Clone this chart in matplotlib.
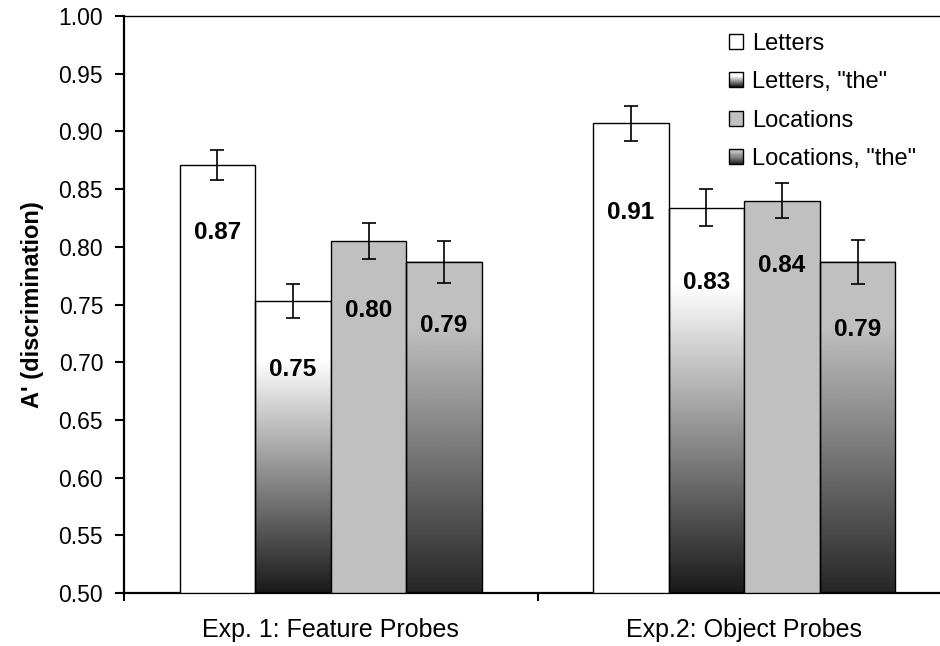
import numpy as np
import matplotlib
matplotlib.use("Agg")
import matplotlib.pyplot as plt
from matplotlib.patches import Rectangle
from matplotlib.legend_handler import HandlerBase

plt.rcParams['font.family'] = ['Liberation Sans', 'DejaVu Sans']

# data
groups = ['Exp. 1: Feature Probes', 'Exp.2: Object Probes']
series = ['Letters', 'Letters, "the"', 'Locations', 'Locations, "the"']
letters = [0.871, 0.907]
letters_the = [0.753, 0.834]
locations = [0.805, 0.840]
locations_the = [0.787, 0.787]
err_letters = [0.013, 0.015]
err_letters_the = [0.015, 0.016]
err_locations = [0.0155, 0.015]
err_locations_the = [0.018, 0.019]
value_labels = [['0.87', '0.91'], ['0.75', '0.83'], ['0.80', '0.84'], ['0.79', '0.79']]

values = [letters, letters_the, locations, locations_the]
errors = [err_letters, err_letters_the, err_locations, err_locations_the]

# styles: (top gray, bottom gray) ; None -> flat fill
fills = [('white', None), (1.0, 0.10), ('#c0c0c0', None), (0.75, 0.15)]
label_drop = [[0.059, 0.077], [0.059, 0.065], [0.060, 0.056], [0.055, 0.059]]
ymin = 0.50
hold = 0.8


def grad(top, bottom, n=256):
    t = np.linspace(0, 1, n)
    return bottom + (top - bottom) * np.clip(t / hold, 0, 1)


class GradientHandler(HandlerBase):
    def __init__(self, top, bottom):
        super().__init__()
        self.top = top
        self.bottom = bottom

    def create_artists(self, legend, orig_handle, xdescent, ydescent,
                       width, height, fontsize, trans):
        arts = []
        n = 14
        g = grad(self.top, self.bottom, n)
        for k in range(n):
            r = Rectangle((-xdescent, -ydescent + height * k / n), width, height / n,
                          facecolor=str(g[k]), edgecolor='none', transform=trans)
            arts.append(r)
        arts.append(Rectangle((-xdescent, -ydescent), width, height, facecolor='none',
                              edgecolor='black', lw=1.0, transform=trans))
        return arts


fig = plt.figure(figsize=(9.4, 6.46), dpi=100)
ax = fig.add_axes([124 / 940, 53 / 646, 827 / 940, 577 / 646])

x = np.arange(len(groups))
width = 0.1826
handles = []
for i, (vals, errs) in enumerate(zip(values, errors)):
    pos = x + (i - 1.5) * width
    heights = [v - ymin for v in vals]
    top, bottom = fills[i]
    face = top if bottom is None else 'none'
    bars = ax.bar(pos, heights, width, bottom=ymin, facecolor=face,
                  edgecolor='black', linewidth=1.0, zorder=3, label=series[i])
    handles.append(bars)
    if bottom is not None:
        for b in bars:
            x0 = b.get_x()
            img = grad(top, bottom)[:, None]
            ax.imshow(img, extent=[x0, x0 + b.get_width(), ymin, ymin + b.get_height()],
                      origin='lower', aspect='auto', cmap='gray', vmin=0, vmax=1,
                      zorder=2, interpolation='bilinear')
    ax.errorbar(pos, vals, yerr=errs, fmt='none', ecolor='black', elinewidth=1.2,
                capsize=5, capthick=1.2, zorder=4)
    for j, v in enumerate(vals):
        ax.text(pos[j], v - label_drop[i][j], value_labels[i][j], ha='center', va='center',
                fontsize=17.5, fontweight='bold', zorder=5)

ax.set_xlim(-0.5, 1.5)
ax.set_ylim(0.5, 1.0)
ax.set_yticks(np.arange(0.5, 1.001, 0.05))
ax.set_yticklabels([f'{t:.2f}' for t in np.arange(0.5, 1.001, 0.05)], fontsize=16.5)
ax.set_xticks([-0.5, 0.5, 1.5])
ax.set_xticklabels([])
ax.set_xticks(x, minor=True)
ax.set_xticklabels(groups, minor=True, fontsize=18)
ax.tick_params(axis='x', which='minor', length=0, pad=18)
ax.tick_params(axis='x', which='major', length=6, width=1.5, direction='out')
ax.tick_params(axis='y', length=6.5, width=1.5, direction='out', pad=8.5)

for s in ['left', 'bottom']:
    ax.spines[s].set_linewidth(1.6)
ax.spines['top'].set_linewidth(1.0)
ax.spines['right'].set_visible(False)

ax.set_ylabel("A' (discrimination)", fontsize=17, fontweight='bold')
ax.yaxis.set_label_coords(-0.097, 0.5)

leg = ax.legend(handles=handles, loc='upper left', bbox_to_anchor=(729 / 940, 1 - 33 / 646),
                bbox_transform=fig.transFigure, frameon=False, fontsize=17,
                handlelength=0.6, handleheight=0.6, handletextpad=0.38,
                labelspacing=0.69, borderpad=0, borderaxespad=0,
                handler_map={handles[1]: GradientHandler(1.0, 0.10),
                             handles[3]: GradientHandler(0.75, 0.15)})
for h in leg.legend_handles:
    try:
        h.set_linewidth(1.0)
    except Exception:
        pass

fig.savefig('out.png', dpi=100)
